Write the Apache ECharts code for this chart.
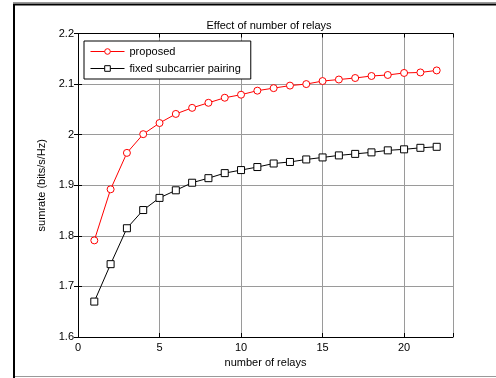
<!DOCTYPE html>
<html>
<head>
<meta charset="utf-8">
<script src="https://cdn.jsdelivr.net/npm/echarts@6/dist/echarts.min.js"></script>
<style>html,body{margin:0;padding:0;background:#fff;}#c{width:496px;height:378px;}</style>
</head>
<body>
<div id="c"></div>
<script>
var relays = [1,2,3,4,5,6,7,8,9,10,11,12,13,14,15,16,17,18,19,20,21,22];
var proposed = [1.791,1.892,1.964,2.001,2.023,2.041,2.053,2.063,2.073,2.079,2.087,2.092,2.097,2.100,2.106,2.109,2.112,2.116,2.118,2.122,2.123,2.127];
var fixedPairing = [1.670,1.744,1.815,1.851,1.875,1.890,1.905,1.914,1.924,1.930,1.936,1.943,1.946,1.951,1.955,1.959,1.962,1.965,1.969,1.971,1.974,1.976];
var xTicks = [0,5,10,15,20];
var yTicks = [1.6,1.7,1.8,1.9,2.0,2.1,2.2];

function pairs(xs, ys){ return xs.map(function(x,i){ return [x, ys[i]]; }); }

var font = 'Liberation Sans, Arial, sans-serif';
var chart = echarts.init(document.getElementById('c'), null, {renderer:'canvas'});
chart.setOption({
  animation:false,
  backgroundColor:'#fff',
  title:{text:'Effect of number of relays', left:264, top:15, textAlign:'center',
    textStyle:{fontFamily:font, fontSize:11, fontWeight:'normal', color:'#000'}},
  grid:{left:78, right:43, top:33.5, bottom:41, containLabel:false},
  legend:{left:84, top:41, orient:'vertical', itemWidth:34, itemHeight:7, itemGap:6,
    padding:[5,10,5,6], borderColor:'#000', borderWidth:1, backgroundColor:'#fff',
    lineStyle:{width:1}, itemStyle:{borderWidth:1, color:'#fff'},
    textStyle:{fontFamily:font, fontSize:11, color:'#000'},
    data:['proposed','fixed subcarrier pairing']},
  xAxis:[{type:'value', min:0, max:23, interval:5, position:'bottom',
    name:'number of relays', nameLocation:'middle', nameGap:20,
    nameTextStyle:{fontFamily:font, fontSize:11, color:'#000'},
    axisLine:{lineStyle:{color:'#000', width:1}},
    axisTick:{inside:true, length:4, lineStyle:{color:'#000'}},
    axisLabel:{fontFamily:font, fontSize:11, color:'#000', margin:5,
      formatter:function(v){ return xTicks.indexOf(v)>=0 ? String(v) : ''; }},
    splitLine:{show:true, lineStyle:{color:'#9a9a9a', width:1}}},
   {type:'value', min:0, max:23, interval:5, position:'top',
    axisLine:{lineStyle:{color:'#000', width:1}},
    axisTick:{inside:true, length:4, lineStyle:{color:'#000'}},
    axisLabel:{show:false}, splitLine:{show:false}}],
  yAxis:[{type:'value', min:1.6, max:2.2, interval:0.1, position:'left',
    name:'sumrate (bits/s/Hz)', nameLocation:'middle', nameGap:19,
    nameTextStyle:{fontFamily:font, fontSize:11, color:'#000'},
    axisLine:{lineStyle:{color:'#000', width:1}},
    axisTick:{inside:true, length:4, lineStyle:{color:'#000'}},
    axisLabel:{fontFamily:font, fontSize:11, color:'#000', margin:4,
      formatter:function(v){ var r=Math.round(v*10)/10; return r===2?'2':r.toFixed(1); }},
    splitLine:{show:true, lineStyle:{color:'#9a9a9a', width:1}}},
   {type:'value', min:1.6, max:2.2, interval:0.1, position:'right',
    axisLine:{lineStyle:{color:'#000', width:1}},
    axisTick:{inside:true, length:4, lineStyle:{color:'#000'}},
    axisLabel:{show:false}, splitLine:{show:false}}],
  series:[
    {name:'proposed', type:'line', data:pairs(relays, proposed), symbol:'circle', symbolSize:7,
     itemStyle:{color:'#fff', borderColor:'#ff0000', borderWidth:1},
     lineStyle:{color:'#ff0000', width:1}, color:'#ff0000', z:3},
    {name:'fixed subcarrier pairing', type:'line', data:pairs(relays, fixedPairing), symbol:'rect', symbolSize:7,
     itemStyle:{color:'#fff', borderColor:'#000', borderWidth:1},
     lineStyle:{color:'#000', width:1}, color:'#000', z:3}
  ],
  graphic:[
    {type:'line', shape:{x1:14, y1:4, x2:14, y2:378}, style:{stroke:'#000', lineWidth:2}},
    {type:'line', shape:{x1:13, y1:4.5, x2:496, y2:4.5}, style:{stroke:'#000', lineWidth:2}},
    {type:'line', shape:{x1:13, y1:2.5, x2:496, y2:2.5}, style:{stroke:'#999', lineWidth:1}},
    {type:'line', shape:{x1:15, y1:376.5, x2:496, y2:376.5}, style:{stroke:'#999', lineWidth:1}}
  ]
});
</script>
</body>
</html>
